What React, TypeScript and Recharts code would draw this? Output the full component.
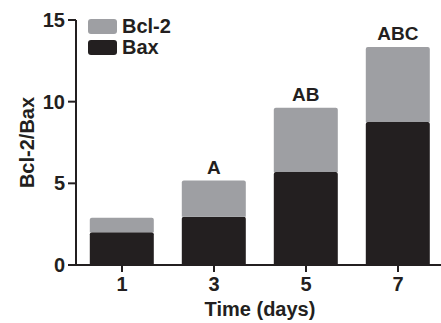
import { BarChart, Bar, XAxis, YAxis, LabelList, Label } from "recharts";

const days = ["1", "3", "5", "7"];
const bax = [2.0, 2.95, 5.7, 8.75];
const bcl2 = [0.89, 2.22, 3.93, 4.59];
const letters = ["", "A", "AB", "ABC"];
const yTicks = [0, 5, 10, 15];
const legendItems = [
  { name: "Bcl-2", color: "#9e9fa3" },
  { name: "Bax", color: "#231f20" },
];

const data = days.map((day, i) => ({ day, bax: bax[i], bcl2: bcl2[i], sig: letters[i] }));

const INK = "#231f20";
const GREY = "#9e9fa3";
const FONT = "'Liberation Sans', Arial, sans-serif";

const YLabel = (props: any) => {
  const vb = props.viewBox || { x: 0, y: 0, width: 0, height: 0 };
  const cx = vb.x + 27;
  const cy = vb.y + vb.height / 2;
  return (
    <text x={cx} y={cy} transform={`rotate(-90 ${cx} ${cy})`} textAnchor="middle" dominantBaseline="central"
      fontFamily={FONT} fontWeight="bold" fontSize={20} fill={INK}>
      Bcl-2/Bax
    </text>
  );
};

export default function App() {
  return (
    <div style={{ position: "absolute", left: 0, top: 0, width: 441, height: 323, overflow: "hidden", background: "#fff" }}>
      <BarChart width={444} height={323} data={data} margin={{ top: 20, right: 0, bottom: 0, left: 0 }} barCategoryGap="15%">
        <YAxis
          domain={[0, 15]}
          ticks={yTicks}
          width={76}
          tickSize={8}
          tickMargin={3}
          axisLine={{ stroke: INK, strokeWidth: 2 }}
          tickLine={{ stroke: INK, strokeWidth: 2 }}
          tick={{ fill: INK, fontFamily: FONT, fontWeight: "bold", fontSize: 20 }}
        >
          <Label content={YLabel} />
        </YAxis>
        <XAxis
          dataKey="day"
          height={58}
          tickSize={7}
          tickMargin={5}
          axisLine={{ stroke: INK, strokeWidth: 2 }}
          tickLine={{ stroke: INK, strokeWidth: 2 }}
          tick={{ fill: INK, fontFamily: FONT, fontWeight: "bold", fontSize: 20 }}
        >
          <Label value="Time (days)" position="insideBottom" offset={7}
            style={{ fill: INK, fontFamily: FONT, fontWeight: "bold", fontSize: 20 }} />
        </XAxis>
        <Bar dataKey="bax" name="Bax" stackId="a" fill={INK} radius={[2, 2, 0, 0]} isAnimationActive={false} />
        <Bar dataKey="bcl2" name="Bcl-2" stackId="a" fill={GREY} radius={[2, 2, 0, 0]} isAnimationActive={false}>
          <LabelList dataKey="sig" position="top" offset={7}
            style={{ fill: INK, fontFamily: FONT, fontWeight: "bold", fontSize: 19 }} />
        </Bar>
      </BarChart>
      <div style={{ position: "absolute", left: 88, top: 16, fontFamily: FONT, fontWeight: "bold", fontSize: 20, color: INK }}>
        {legendItems.map((it) => (
          <div key={it.name} style={{ display: "flex", alignItems: "center", height: 21 }}>
            <span style={{ display: "inline-block", width: 29, height: 15, background: it.color, borderRadius: 3, marginRight: 5 }} />
            <span style={{ lineHeight: "21px" }}>{it.name}</span>
          </div>
        ))}
      </div>
    </div>
  );
}
